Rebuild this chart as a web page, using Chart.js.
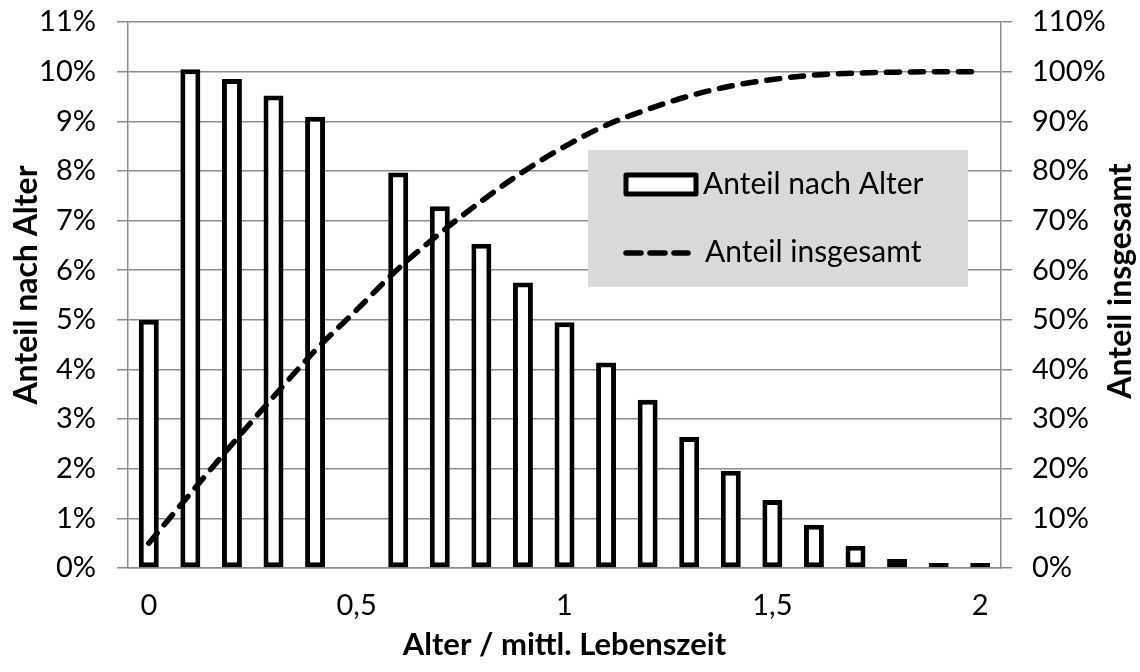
<!DOCTYPE html>
<html>
<head>
<meta charset="utf-8">
<script src="https://cdn.jsdelivr.net/npm/chart.js@4.4.1/dist/chart.umd.min.js"></script>
<style>
  html, body { margin: 0; padding: 0; background: #fff; overflow: hidden; }
</style>
</head>
<body>
<canvas id="ageChart" width="1140" height="672"></canvas>
<script>
// Alter relativ zur mittleren Lebenszeit
const categories = ['0', '0,1', '0,2', '0,3', '0,4', '0,5', '0,6', '0,7', '0,8', '0,9', '1',
    '1,1', '1,2', '1,3', '1,4', '1,5', '1,6', '1,7', '1,8', '1,9', '2'];

// Anteil nach Alter in %
const shareByAge = [5.0, 10.05, 9.85, 9.52, 9.09, null, 7.97, 7.29, 6.53, 5.75, 4.95,
    4.14, 3.39, 2.64, 1.96, 1.37, 0.87, 0.45, 0.18, 0.05, 0.03];

// Anteil insgesamt in %
const shareTotal = [5.0, 15.0, 24.9, 34.5, 43.8, 52.0, 60.3, 67.4, 73.9, 79.8, 84.9,
    89.2, 92.4, 95.1, 97.1, 98.4, 99.3, 99.7, 99.9, 100, 100];

const leftMax = 11;
const rightMax = 110;

const GRID = '#8c8c8c';
const FONT = 'Lato';
const DASH = [13, 11];

// Legende als graue Box im Diagramm, dazu die beiden senkrechten Achsentitel
const extras = {
    id: 'extras',
    beforeDatasetsDraw(chart) {
        const ctx = chart.ctx;
        const bars = chart.data.datasets[1];
        const line = chart.data.datasets[0];
        ctx.save();
        ctx.fillStyle = '#d9d9d9';
        ctx.fillRect(588, 150, 380, 137);

        // Balken-Symbol
        ctx.fillStyle = '#fff';
        ctx.strokeStyle = '#000';
        ctx.lineWidth = 5;
        ctx.lineJoin = 'round';
        ctx.fillRect(626, 175, 70, 19);
        ctx.strokeRect(626, 175, 70, 19);

        // Linien-Symbol
        ctx.lineWidth = 5.5;
        ctx.lineCap = 'round';
        ctx.setLineDash([15, 9]);
        ctx.beginPath();
        ctx.moveTo(626, 253);
        ctx.lineTo(688, 253);
        ctx.stroke();

        ctx.fillStyle = '#000';
        ctx.font = '30px ' + FONT;
        ctx.textBaseline = 'middle';
        ctx.fillText(bars.label, 703, 184);
        ctx.fillText(line.label, 705, 252);
        ctx.restore();
    },
    afterDraw(chart) {
        const titles = [
            [chart.options.scales.yLeft.title.text, 27, 285],
            [chart.options.scales.yRight.title.text, 1121, 281]
        ];
        const ctx = chart.ctx;
        titles.forEach(function (t) {
            ctx.save();
            ctx.fillStyle = '#000';
            ctx.font = 'bold 32px ' + FONT;
            ctx.textAlign = 'center';
            ctx.textBaseline = 'middle';
            ctx.translate(t[1], t[2]);
            ctx.rotate(-Math.PI / 2);
            ctx.fillText(t[0], 0, 0);
            ctx.restore();
        });
    }
};

// feste Breite der senkrechten Achsen, ohne Zusatzabstand oben/unten
function fitVertical(width) {
    return function (scale) {
        scale.width = width;
        scale.paddingTop = 0;
        scale.paddingBottom = 0;
    };
}

new Chart(document.getElementById('ageChart'), {
    type: 'bar',
    data: {
        labels: categories,
        datasets: [
            {
                type: 'line',
                label: 'Anteil insgesamt',
                data: shareTotal,
                yAxisID: 'yRight',
                borderColor: '#000',
                borderWidth: 5.5,
                borderDash: DASH,
                borderCapStyle: 'round',
                cubicInterpolationMode: 'monotone',
                pointRadius: 0,
                fill: false,
                order: 0
            },
            {
                label: 'Anteil nach Alter',
                data: shareByAge,
                yAxisID: 'yLeft',
                backgroundColor: '#fff',
                borderColor: '#000',
                borderWidth: 5,
                borderSkipped: false,
                minBarLength: 5,
                categoryPercentage: 1,
                barPercentage: 0.48,
                order: 1
            }
        ]
    },
    options: {
        responsive: false,
        animation: false,
        layout: { padding: { top: 22, left: 0, right: 0, bottom: 0 } },
        plugins: {
            legend: { display: false },
            tooltip: { enabled: false }
        },
        scales: {
            x: {
                grid: { display: false, drawTicks: false },
                border: { display: true, color: GRID, width: 1.5 },
                ticks: {
                    autoSkip: false,
                    maxRotation: 0,
                    padding: 20,
                    color: '#000',
                    font: { family: FONT, size: 29 },
                    callback: function (value, index) {
                        return index % 5 === 0 ? categories[index] : '';
                    }
                },
                title: {
                    display: true,
                    text: 'Alter / mittl. Lebenszeit',
                    color: '#000',
                    font: { family: FONT, size: 31, weight: 'bold' },
                    padding: { top: 0, bottom: 8 }
                },
                afterFit: function (scale) { scale.height = 104; }
            },
            yLeft: {
                position: 'left',
                min: 0,
                max: leftMax,
                grid: { color: GRID, lineWidth: 1.5, tickLength: 11 },
                border: { display: true, color: GRID, width: 1.5 },
                ticks: {
                    stepSize: 1,
                    padding: 21,
                    color: '#000',
                    font: { family: FONT, size: 29 },
                    callback: function (value) { return value + '%'; }
                },
                title: { display: false, text: 'Anteil nach Alter' },
                afterFit: fitVertical(128)
            },
            yRight: {
                position: 'right',
                min: 0,
                max: rightMax,
                grid: { drawOnChartArea: false, color: GRID, lineWidth: 1.5, tickLength: 11 },
                border: { display: true, color: GRID, width: 1.5 },
                ticks: {
                    stepSize: 10,
                    padding: 20,
                    color: '#000',
                    font: { family: FONT, size: 29 },
                    callback: function (value) { return value + '%'; }
                },
                title: { display: false, text: 'Anteil insgesamt' },
                afterFit: fitVertical(139)
            }
        }
    },
    plugins: [extras]
});
</script>
</body>
</html>
